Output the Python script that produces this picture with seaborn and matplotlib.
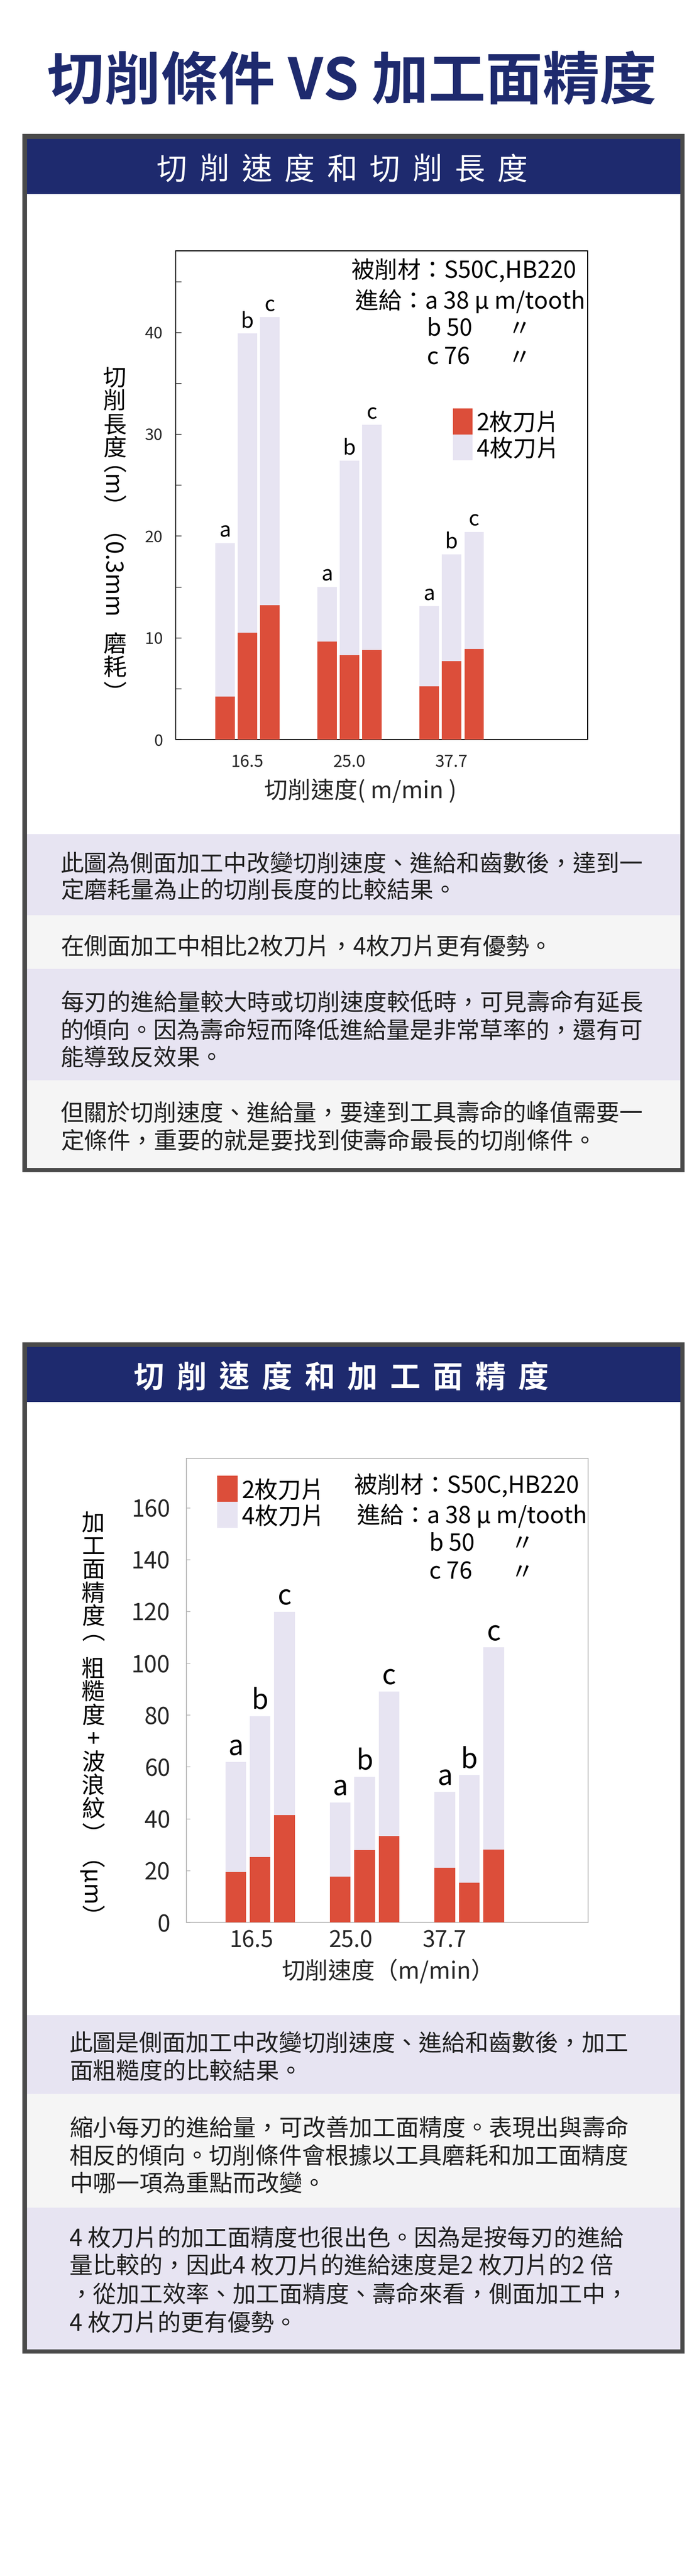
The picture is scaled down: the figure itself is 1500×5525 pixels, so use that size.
import numpy as np
import pandas as pd
import matplotlib
matplotlib.use("Agg")
import matplotlib.pyplot as plt
import seaborn as sns
from matplotlib.patches import Rectangle
from matplotlib.ticker import MultipleLocator
from matplotlib.font_manager import FontProperties, findfont, get_font

# ---------------- data ----------------
speeds = ['16.5', '25.0', '37.7']
feeds = ['a', 'b', 'c']

life_4_a = [19.3, 15.0, 13.1]
life_4_b = [39.9, 27.4, 18.2]
life_4_c = [41.5, 30.9, 20.4]
life_2_a = [4.2, 9.6, 5.2]
life_2_b = [10.5, 8.3, 7.7]
life_2_c = [13.2, 8.8, 8.9]

rough_4_a = [61.8, 46.3, 50.3]
rough_4_b = [79.6, 56.2, 56.8]
rough_4_c = [119.9, 89.1, 106.1]
rough_2_a = [19.5, 17.7, 21.1]
rough_2_b = [25.2, 27.9, 15.3]
rough_2_c = [41.4, 33.3, 28.1]

legend_labels = ['2枚刀片', '4枚刀片']
main_title = '切削條件 VS 加工面精度'
header1 = '切削速度和切削長度'
header2 = '切削速度和加工面精度'
xlabel1 = '切削速度( m/min )'
xlabel2 = '切削速度（m/min）'
ylabel1_segs = [('切削長度', True), ('（m）（0.3mm', False), ('磨耗', True), ('）', False)]
ylabel2_segs = [('加工面精度', True), ('（', False), ('粗糙度+波浪紋', True), ('）（µm）', False)]
note_lines = ['被削材：S50C,HB220', '進給：a 38 µ m/tooth', 'b 50', '〃', 'c 76', '〃']

para1 = ['此圖為側面加工中改變切削速度、進給和齒數後，達到一',
         '定磨耗量為止的切削長度的比較結果。',
         '在側面加工中相比2枚刀片，4枚刀片更有優勢。',
         '每刃的進給量較大時或切削速度較低時，可見壽命有延長',
         '的傾向。因為壽命短而降低進給量是非常草率的，還有可',
         '能導致反效果。',
         '但關於切削速度、進給量，要達到工具壽命的峰值需要一',
         '定條件，重要的就是要找到使壽命最長的切削條件。']
para2 = ['此圖是側面加工中改變切削速度、進給和齒數後，加工',
         '面粗糙度的比較結果。',
         '縮小每刃的進給量，可改善加工面精度。表現出與壽命',
         '相反的傾向。切削條件會根據以工具磨耗和加工面精度',
         '中哪一項為重點而改變。',
         '4 枚刀片的加工面精度也很出色。因為是按每刃的進給',
         '量比較的，因此4 枚刀片的進給速度是2 枚刀片的2 倍',
         '，從加工效率、加工面精度、壽命來看，側面加工中，',
         '4 枚刀片的更有優勢。']

# ---------------- style ----------------
NAVY = '#1E2A6E'
BORDER = '#4A4A4A'
LAV = '#E7E4F2'
GREY = '#F5F5F5'
RED = '#DC4E3A'
TXT = '#1F1F1F'

sns.set_theme(style='white')
plt.rcParams['font.family'] = ['Noto Sans CJK TC', 'DejaVu Sans']

DPI = 100
W, H = 1500, 5525
fig = plt.figure(figsize=(W / DPI, H / DPI), dpi=DPI)
fig.patch.set_facecolor('white')
renderer = fig.canvas.get_renderer()
FONT = get_font(findfont(FontProperties(family='Noto Sans CJK TC')))


def em(fs):
    return fs * DPI / 72.0


def glyph(ch, fs):
    FONT.set_size(fs, DPI)
    g = FONT.load_char(ord(ch))
    adv = g.linearHoriAdvance / 65536.0
    lsb = g.horiBearingX / 64.0
    w = g.width / 64.0
    return adv, lsb, adv - lsb - w


def fx(x):
    return x / W


def fy(y):
    return 1 - y / H


def rect(x0, y0, x1, y1, color):
    fig.add_artist(Rectangle((fx(x0), fy(y1)), (x1 - x0) / W, (y1 - y0) / H,
                             transform=fig.transFigure, facecolor=color,
                             edgecolor='none', zorder=-10))


def put(x, cy, s, fs, ha='left', color='black', weight='normal'):
    return fig.text(fx(x), fy(cy + 0.38 * em(fs)), s, fontsize=fs, ha=ha,
                    va='baseline', color=color, fontweight=weight)


def vlabel(x, ytop, segs, fs):
    """Vertical (top-to-bottom) label: CJK upright, Latin runs rotated."""
    e = em(fs)
    y = ytop
    prop = FontProperties(family='Noto Sans CJK TC', size=fs)
    _, lp_h, lp_d = renderer.get_text_width_height_descent('lp', prop, ismath=False)
    prev = None
    prev_upright = True
    for s, upright in segs:
        if upright:
            for ch in s:
                t = fig.text(fx(x), fy(y + 0.88 * e), ch, fontsize=fs,
                             ha='center', va='baseline', color='black')
                if prev is not None and not prev_upright:
                    ov = t.get_window_extent(renderer).y1 - prev.get_window_extent(renderer).y0
                    if ov > 0:
                        y += ov + 1
                        t.set_position((fx(x), fy(y + 0.88 * e)))
                prev, prev_upright = t, True
                y += e
        else:
            metrics = [glyph(c, fs) for c in s]
            total = sum(m[0] for m in metrics)
            ink0 = y + metrics[0][1]
            ink1 = y + total - metrics[-1][2]
            _, sh, sd = renderer.get_text_width_height_descent(s, prop, ismath=False)
            hl, dl = max(sh, lp_h), max(sd, lp_d)
            px = (x - 0.38 * e) + (hl / 2 - dl) - metrics[0][1]
            t = fig.text(fx(px), fy((ink0 + ink1) / 2), s, fontsize=fs,
                         rotation=-90, ha='center', va='center', color='black')
            if prev is not None:
                ov = t.get_window_extent(renderer).y1 - prev.get_window_extent(renderer).y0
                if ov > 0:
                    y += ov + 1
                    t.set_position((fx(px), fy((ink0 + ink1) / 2 + ov + 1)))
            prev, prev_upright = t, False
            y += total


def long_df(a, b, c):
    return pd.DataFrame({'speed': speeds * 3,
                         'feed': np.repeat(feeds, 3),
                         'value': list(a) + list(b) + list(c)})


# ---------------- title ----------------
put(755, 166, main_title, 88, ha='center', color=NAVY, weight='bold')

# ---------------- boxes ----------------
rect(48, 287, 1469, 2514, BORDER)
rect(58, 298, 1460, 2505, 'white')
rect(58, 298, 1460, 416, NAVY)
for y0, y1, c in [(1789, 1963, LAV), (1963, 2078, GREY), (2078, 2317, LAV), (2317, 2505, GREY)]:
    rect(58, y0, 1460, y1, c)
rect(48, 2879, 1469, 5048, BORDER)
rect(58, 2889, 1460, 5039, 'white')
rect(58, 2889, 1460, 3007, NAVY)
for y0, y1, c in [(4322, 4491, LAV), (4491, 4735, GREY), (4735, 5039, LAV)]:
    rect(58, y0, 1460, y1, c)

for i, ch in enumerate(header1):
    put(368 + i * 91.4, 360, ch, 47, ha='center', color='white')
for i, ch in enumerate(header2):
    put(319.5 + i * 91.6, 2951, ch, 47, ha='center', color='white', weight='bold')

para1_y = [1850, 1907, 2027, 2149, 2208, 2266, 2386, 2446]
for s, y in zip(para1, para1_y):
    put(130, y, s, 36, color=TXT)
para2_y = [4380, 4440, 4562, 4621, 4681, 4797, 4857, 4919, 4979]
for s, y in zip(para2, para2_y):
    put(149, y, s, 36, color=TXT)


# ---------------- chart helpers ----------------
def draw_bars(ax, df4, df2, width, gap, lab_fs, lab_pad):
    sns.barplot(data=df4, x='speed', y='value', hue='feed', order=speeds,
                hue_order=feeds, palette={f: LAV for f in feeds}, width=width,
                gap=gap, saturation=1, errorbar=None, legend=False,
                linewidth=0, ax=ax, zorder=2)
    n4 = len(ax.containers)
    for cont, f in zip(ax.containers[:n4], feeds):
        ax.bar_label(cont, labels=[f] * len(cont), padding=lab_pad,
                     fontsize=lab_fs, color='black')
    sns.barplot(data=df2, x='speed', y='value', hue='feed', order=speeds,
                hue_order=feeds, palette={f: RED for f in feeds}, width=width,
                gap=gap, saturation=1, errorbar=None, legend=False,
                linewidth=0, ax=ax, zorder=3)
    ax.set_xlabel('')
    ax.set_ylabel('')


def legend_box(ax, L, T, R, B, x0, ytop, w, h, tx, fs):
    for k, col in enumerate([RED, LAV]):
        y0 = ytop + k * h
        ax.add_patch(Rectangle(((x0 - L) / (R - L), 1 - (y0 + h - T) / (B - T)),
                               w / (R - L), h / (B - T), transform=ax.transAxes,
                               facecolor=col, edgecolor='none', zorder=4,
                               clip_on=False))
        put(tx, y0 + h / 2, legend_labels[k], fs)


# ---------------- chart 1 ----------------
L, T, R, B = 377, 538, 1261, 1586
ax1 = fig.add_axes([fx(L), fy(B), (R - L) / W, (B - T) / H])
ax1.set_facecolor('white')
draw_bars(ax1, long_df(life_4_a, life_4_b, life_4_c),
          long_df(life_2_a, life_2_b, life_2_c), 0.66, 0.14, 32, 2)
ax1.set_xlim(-0.703, 3.333)
ax1.set_ylim(0, 48)
ax1.yaxis.set_major_locator(MultipleLocator(10))
ax1.yaxis.set_minor_locator(MultipleLocator(5))
ax1.tick_params(axis='y', which='both', direction='in', length=8.6, width=1,
                color='black', left=True, labelsize=25, pad=20)
ax1.tick_params(axis='x', length=0, labelsize=26, pad=22)
for sp in ax1.spines.values():
    sp.set_visible(True)
    sp.set_color('black')
    sp.set_linewidth(1.5)
legend_box(ax1, L, T, R, B, 972, 876, 42, 55.5, 1023, 36)
fig.text(fx(773), fy(1693 + 0.38 * em(36)), xlabel1, fontsize=36, ha='center',
         va='baseline')
vlabel(246, 783, ylabel1_segs, 36)
note1_pos = [(754, 577), (762, 643), (916, 701), (1090, 701), (916, 763), (1090, 763)]
for s, (x, y) in zip(note_lines, note1_pos):
    put(x, y, s, 36)

# ---------------- chart 2 ----------------
L, T, R, B = 400, 3128, 1262, 4123
ax2 = fig.add_axes([fx(L), fy(B), (R - L) / W, (B - T) / H])
ax2.set_facecolor('white')
draw_bars(ax2, long_df(rough_4_a, rough_4_b, rough_4_c),
          long_df(rough_2_a, rough_2_b, rough_2_c), 0.70, 0.155, 42, 1)
ax2.set_xlim(-0.704, 3.136)
ax2.set_ylim(0, 179)
ax2.yaxis.set_major_locator(MultipleLocator(20))
ax2.tick_params(axis='y', which='both', direction='in', length=6, width=1,
                color='#AAAAAA', left=True, labelsize=36, pad=25)
ax2.set_xticks([-0.08, 0.864, 1.764], labels=speeds)
ax2.tick_params(axis='x', length=0, labelsize=35, pad=11)
for sp in ax2.spines.values():
    sp.set_visible(True)
    sp.set_color('#AAAAAA')
    sp.set_linewidth(1.2)
legend_box(ax2, L, T, R, B, 466, 3165, 44, 56, 519, 36)
fig.text(fx(833), fy(4225 + 0.38 * em(36)), xlabel2, fontsize=36, ha='center',
         va='baseline')
vlabel(200, 3239, ylabel2_segs, 36)
note2_pos = [(760, 3183), (766, 3248), (921, 3306), (1096, 3306), (921, 3368), (1096, 3368)]
for s, (x, y) in zip(note_lines, note2_pos):
    put(x, y, s, 36)

fig.savefig('out.png', dpi=DPI, facecolor='white')
